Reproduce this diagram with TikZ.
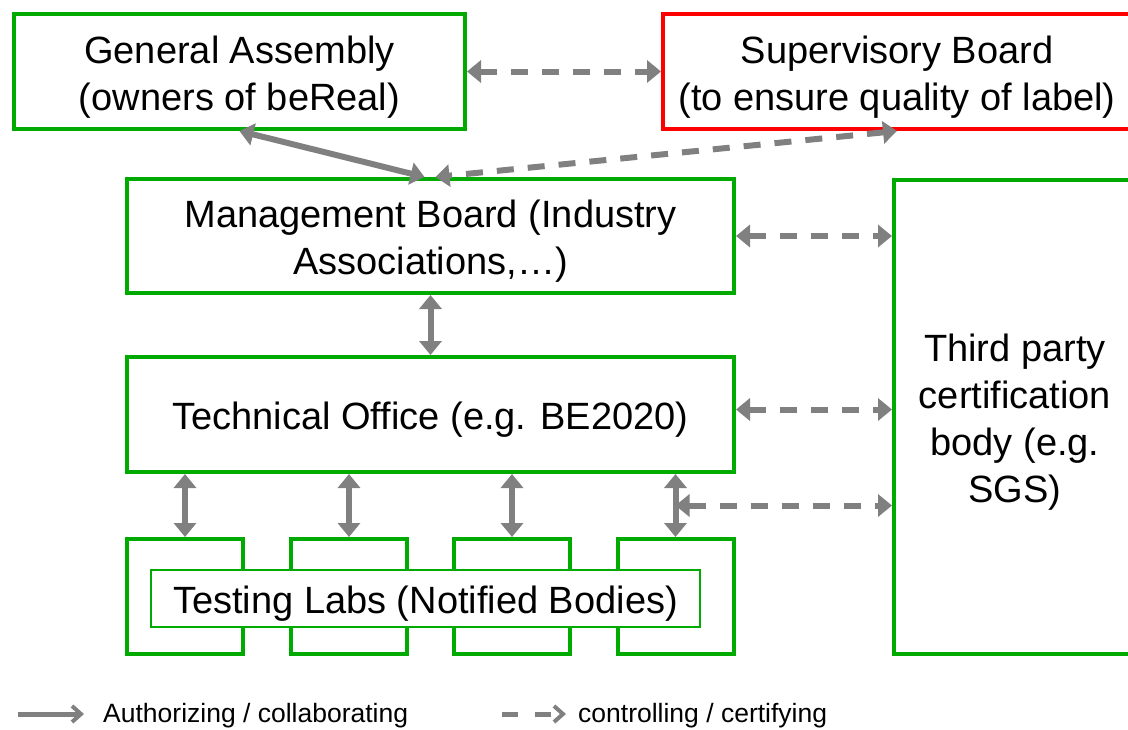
\documentclass[tikz,border=0pt]{standalone}
\usepackage{fontspec}
\setmainfont{Liberation Sans}
\usepackage{xcolor}
\usepackage{tikz}
\usetikzlibrary{arrows.meta, calc}
\definecolor{boxgreen}{RGB}{0, 170, 0}
\definecolor{boxred}{RGB}{255, 0, 0}
\definecolor{linkgray}{RGB}{128, 128, 128}
\newcommand{\topgap}{\rule{0pt}{38pt}}

\begin{document}
\begin{tikzpicture}[x=1pt, y=-1pt,
  unit/.style={draw=boxgreen, line width=4pt, fill=white, inner sep=0pt, align=center,
    font=\fontsize{38}{47}\selectfont},
  auth/.style={linkgray, line width=6pt, {Triangle[length=14pt,width=22pt]}-{Triangle[length=14pt,width=22pt]}},
  ctrl/.style={auth, dash pattern=on 17pt off 14pt},
  legendtext/.style={anchor=base west, inner sep=0pt, font=\fontsize{26.5}{32}\selectfont}]

\useasboundingbox (0,0) rectangle (1128,729);
\clip (0,0) rectangle (1128,729);

% bodies
\node[unit, minimum width=451pt, minimum height=115pt] (GA) at (239.5,71.5)
  {\topgap General Assembly\\(owners of beReal)};
\node[unit, draw=boxred, minimum width=468pt, minimum height=115pt] (SB) at (897,71.5)
  {\topgap Supervisory Board\\(to ensure quality of label)};
\node[unit, minimum width=607pt, minimum height=114pt] (MB) at (430.5,236)
  {\topgap Management Board (Industry\\Associations,\ldots)};
\node[unit, minimum width=607pt, minimum height=115pt] (TO) at (430.5,414.5)
  {\topgap Technical Office (e.g. BE2020)};
\node[unit, minimum width=242pt, minimum height=474pt] (TP) at (1015,417)
  {\topgap Third party\\certification\\body (e.g.\\SGS)};

\node[unit, minimum width=116pt, minimum height=115pt] (lab1) at (185,596.5) {};
\node[unit, minimum width=116pt, minimum height=115pt] (lab2) at (349,596.5) {};
\node[unit, minimum width=116pt, minimum height=115pt] (lab3) at (512,596.5) {};
\node[unit, minimum width=116pt, minimum height=115pt] (lab4) at (675.5,596.5) {};
\node[unit, line width=2pt, minimum width=549pt, minimum height=57pt] (TL) at (425.5,598.5)
  {\topgap Testing Labs (Notified Bodies)};

% links
\draw[ctrl] (GA.east) -- (SB.west);
\draw[auth] (GA.south) -- ([xshift=-6pt]MB.north);
\draw[ctrl] (SB.south) -- ([xshift=5pt]MB.north);
\draw[ctrl] (MB.east) -- (TP.west |- MB.east);
\draw[auth] (MB.south) -- (TO.north);
\draw[ctrl] ([yshift=5pt]TO.east) -- ([yshift=5pt]TP.west |- TO.east);
\foreach \l in {lab1, lab2, lab3, lab4}
  \draw[auth] (\l.north) -- (\l.north |- TO.south);
\coordinate (tap) at ($(lab4.north)!0.5!(lab4.north |- TO.south)$);
\draw[ctrl] (tap) -- (TP.west |- tap);

% legend
\coordinate (la) at (18,714);
\coordinate (lb) at (84,714);
\coordinate (lc) at (502,714);
\coordinate (ld) at (566,714);
\draw[linkgray, line width=5pt, -{Straight Barb[length=9pt,width=16pt,line width=4pt]}] (la) -- (lb);
\draw[linkgray, line width=5pt, dash pattern=on 16pt off 17pt, -{Straight Barb[length=9pt,width=16pt,line width=4pt]}] (lc) -- (ld);
\node[legendtext] (auth) at (103,722) {Authorizing / collaborating};
\node[legendtext] (ctrl) at (578,722) {controlling / certifying};

\end{tikzpicture}
\end{document}
